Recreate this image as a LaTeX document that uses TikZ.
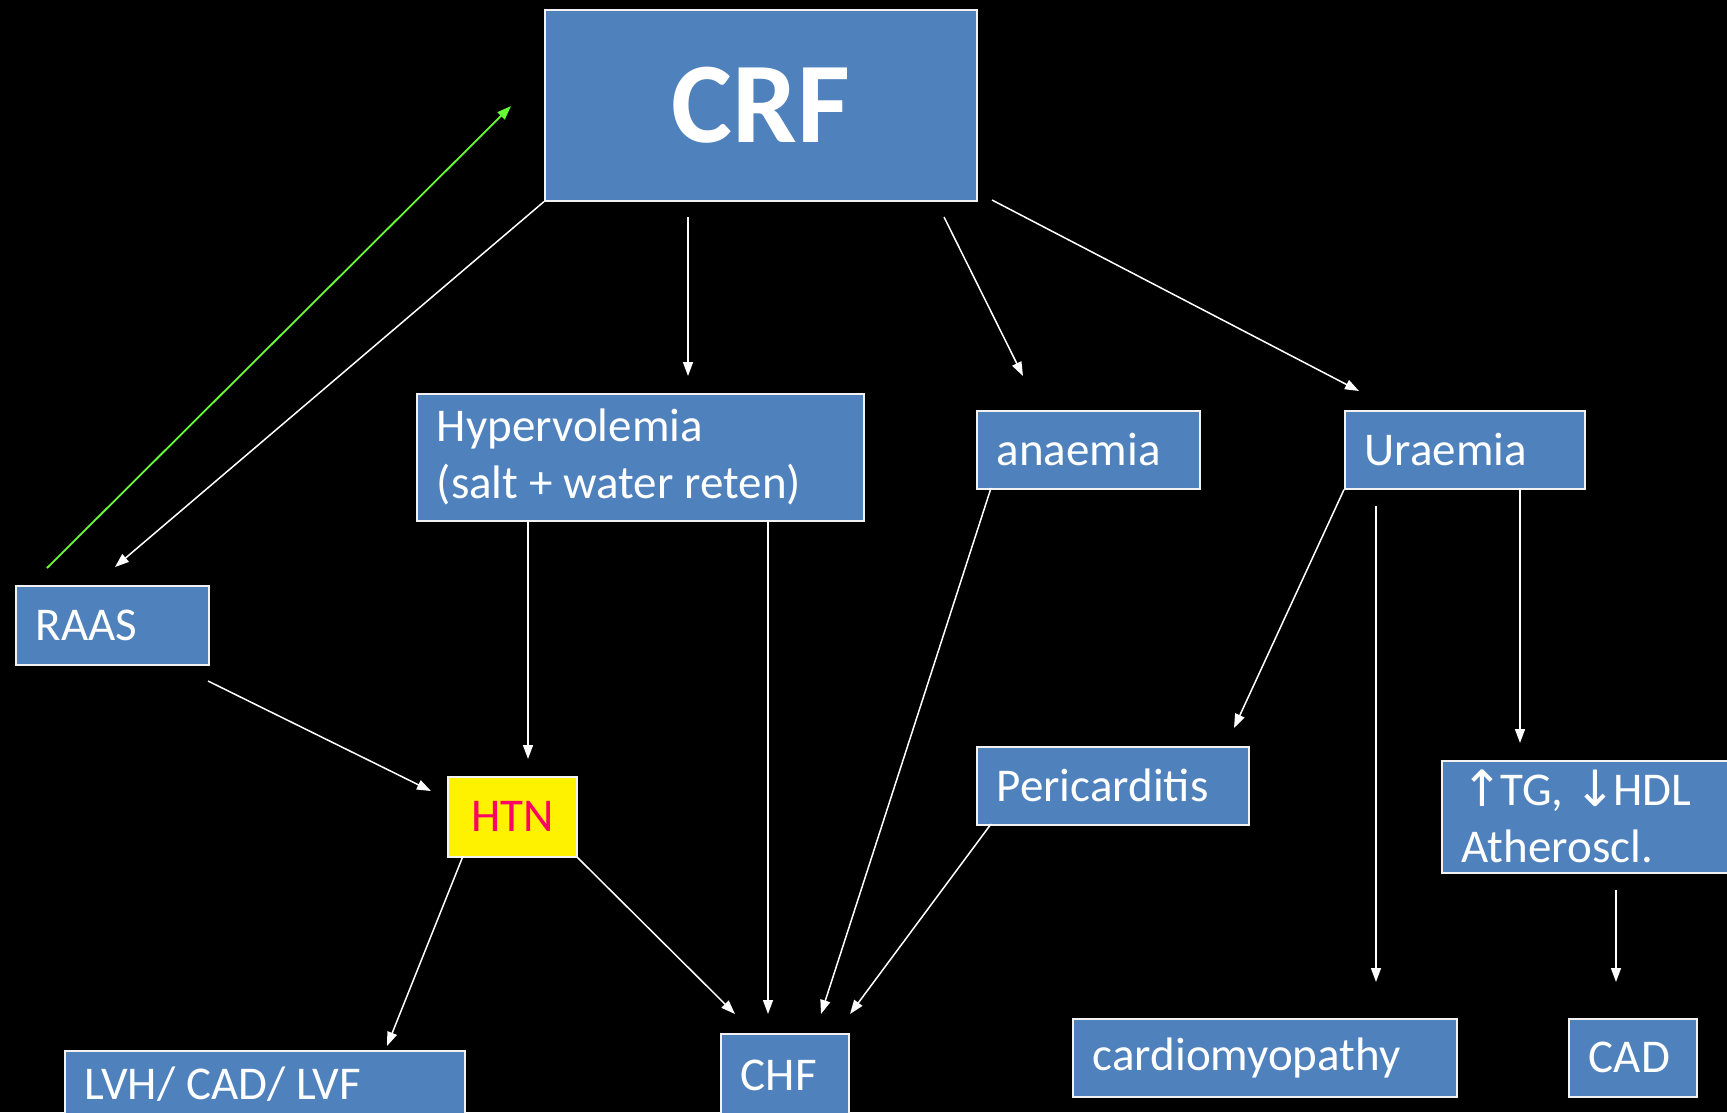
\documentclass[tikz,border=0pt]{standalone}
\usepackage{fontspec}
\setmainfont{Carlito}
\newfontfamily\symfont{DejaVu Sans}
\usetikzlibrary{arrows.meta}
\definecolor{boxblue}{HTML}{4F81BD}
\definecolor{htnred}{HTML}{FF0066}
\definecolor{greenarrow}{HTML}{66FF33}
\newcommand{\uparr}{{\symfont\fontsize{50}{57}\selectfont\raisebox{-1pt}{↑}}\kern-3pt}
\newcommand{\downarr}{{\symfont\fontsize{50}{57}\selectfont\raisebox{-1pt}{↓}}\kern-3pt}
\newcommand{\tightsp}{\spaceskip=10.8pt plus 2pt minus 1pt\relax}
\tikzset{
  box/.style={draw=white!90!gray, line width=1.6pt, fill=boxblue, text=white,
    inner xsep=20pt, inner ysep=0pt, align=left, anchor=north west,
    font=\fontsize{47}{57}\selectfont, execute at begin node=\tightsp},
  conn/.style={draw=white, line width=1.5pt, -{Triangle[length=14pt,width=10pt]}},
  greenconn/.style={draw=greenarrow, line width=1.8pt, -{Triangle[length=14pt,width=10pt]}}
}
\begin{document}
\begin{tikzpicture}[x=1pt,y=-1pt]
\fill[black] (0,0) rectangle (1727,1112);
\useasboundingbox (0,0) rectangle (1727,1112);
\clip (0,0) rectangle (1727,1112);

% boxes
\node[box, text width=432pt, minimum height=191pt, align=center, inner xsep=0pt,
  font=\fontsize{115}{120}\selectfont\bfseries] (crf) at (544,9) {CRF};
\node[box, text width=407pt, minimum height=127pt] (hyp) at (416,393) {Hypervolemia\\(salt + water reten)};
\node[box, text width=183pt, minimum height=78pt] (ana) at (976,410) {anaemia};
\node[box, text width=200pt, minimum height=78pt] (ura) at (1344,410) {Uraemia};
\node[box, text width=153pt, minimum height=79pt] (raas) at (15,585) {RAAS};
\node[box, fill=yellow, text=htnred, text width=129pt, minimum height=80pt, align=center, inner xsep=0pt] (htn) at (447,776) {HTN};
\node[box, text width=232pt, minimum height=78pt] (peri) at (976,746) {Pericarditis};
\node[box, text width=264pt, minimum height=112pt] (tg) at (1441,760) {\uparr TG, \downarr HDL\\Atheroscl.};
\node[box, text width=360pt, minimum height=66pt] (lvh) at (64,1050) {LVH/ CAD/ LVF};
\node[box, text width=88pt, minimum height=84pt] (chf) at (720,1033) {CHF};
\node[box, text width=344pt, minimum height=78pt] (cmp) at (1072,1018) {cardiomyopathy};
\node[box, text width=88pt, minimum height=78pt] (cad) at (1568,1018) {CAD};

% free connector ends
\coordinate (g1) at (47,568);
\coordinate (g2) at (511,106);
\coordinate (r1) at (115,567);
\coordinate (a1s) at (688,217);
\coordinate (a1e) at (688,376);
\coordinate (a2s) at (944,217);
\coordinate (a2e) at (1023,376);
\coordinate (a3s) at (992,200);
\coordinate (a3e) at (1359,391);
\coordinate (h1s) at (528,520);
\coordinate (h1e) at (528,759);
\coordinate (h2s) at (768,520);
\coordinate (h2e) at (768,1014);
\coordinate (n1s) at (991,488);
\coordinate (n1e) at (821,1014);
\coordinate (u1e) at (1234,728);
\coordinate (u2s) at (1376,506);
\coordinate (u2e) at (1376,982);
\coordinate (u3s) at (1520,488);
\coordinate (u3e) at (1520,743);
\coordinate (rs) at (208,681);
\coordinate (re) at (431,791);
\coordinate (t1s) at (463,856);
\coordinate (t1e) at (387,1046);
\coordinate (t2e) at (735,1014);
\coordinate (p1s) at (991,824);
\coordinate (p1e) at (850,1014);
\coordinate (c1s) at (1616,890);
\coordinate (c1e) at (1616,982);

% connectors
\draw[greenconn] (g1) -- (g2);
\draw[conn] (crf.south west) -- (r1);
\draw[conn] (a1s) -- (a1e);
\draw[conn] (a2s) -- (a2e);
\draw[conn] (a3s) -- (a3e);
\draw[conn] (h1s) -- (h1e);
\draw[conn] (h2s) -- (h2e);
\draw[conn] (n1s) -- (n1e);
\draw[conn] (ura.south west) -- (u1e);
\draw[conn] (u2s) -- (u2e);
\draw[conn] (u3s) -- (u3e);
\draw[conn] (rs) -- (re);
\draw[conn] (t1s) -- (t1e);
\draw[conn] (htn.south east) -- (t2e);
\draw[conn] (p1s) -- (p1e);
\draw[conn] (c1s) -- (c1e);
\end{tikzpicture}
\end{document}
